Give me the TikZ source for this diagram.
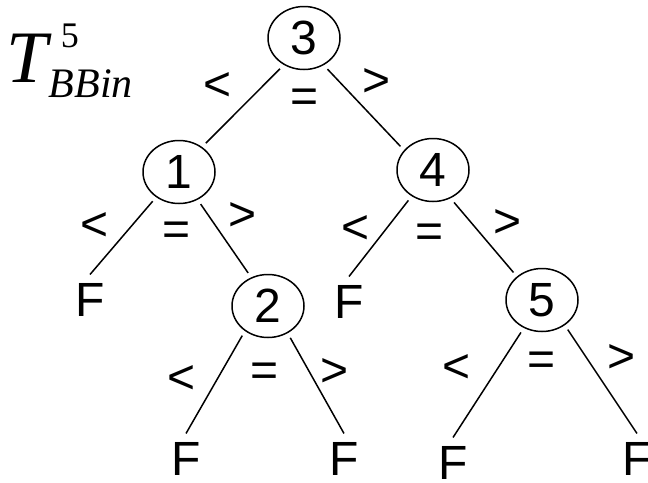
\documentclass[tikz,border=0pt]{standalone}
\usepackage{fontspec}
\setmainfont{Liberation Sans}
\newfontfamily\ttlfont{Liberation Serif}
\usetikzlibrary{shapes.geometric}
\tikzset{
	key/.style={ellipse,draw,minimum width=72pt,minimum height=63pt,inner sep=0pt,outer sep=6pt},
	leaf/.style={inner sep=0pt,outer sep=9pt},
	cmp/.style={inner sep=0pt}
}
\begin{document}
\begin{tikzpicture}[x=1pt,y=-1pt,line width=1.5pt,font=\fontsize{48}{48}\selectfont]
	\useasboundingbox (0,0)rectangle(648,482);
	% title
	\node[anchor=base west,inner sep=0pt,font=\fontsize{74}{74}\selectfont\ttlfont\itshape] (ttl) at (6,82) {T};
	\node[anchor=base west,inner sep=0pt,font=\fontsize{36}{36}\selectfont\ttlfont] (ttlsup) at (60,47) {5};
	\node[anchor=base west,inner sep=0pt,font=\fontsize{42}{42}\selectfont\ttlfont\itshape] (ttlsub) at (48,97) {BBin};
	% keys
	\node[key] (n3) at (304,38) {3};
	\node[key] (n1) at (179,172) {1};
	\node[key] (n4) at (433,170) {4};
	\node[key] (n2) at (268,306) {2};
	\node[key] (n5) at (542,300) {5};
	% failures
	\node[leaf] (f1) at (90,300) {F};
	\node[leaf] (f4) at (349,302) {F};
	\node[leaf] (f2l) at (186,459) {F};
	\node[leaf] (f2r) at (344,459) {F};
	\node[leaf] (f5l) at (453,463) {F};
	\node[leaf] (f5r) at (637,459) {F};
	% edges
	\draw (n3.232)--(n1.47);
	\draw (n3.307)--(n4.144);
	\draw (n1.228)--(f1.north);
	\draw (n1.304)--(n2.121);
	\draw (n4.231)--(f4.north);
	\draw (n4.303)--(n5.136);
	\draw (n2.229)--(f2l.north);
	\draw (n2.305)--(f2r.north);
	\draw (n5.237)--(f5l.north);
	\draw (n5.311)--(f5r.north);
	% comparisons
	\foreach \x/\y in {218/87,95/227,356/230,182/380,457/369}{\path (\x,\y)node[cmp]{<};}
	\foreach \x/\y in {305/101,177/234,430/236,265/375,542/364}{\path (\x,\y)node[cmp]{=};}
	\foreach \x/\y in {377/83,243/217,508/224,335/373,622/359}{\path (\x,\y)node[cmp]{>};}
\end{tikzpicture}
\end{document}
